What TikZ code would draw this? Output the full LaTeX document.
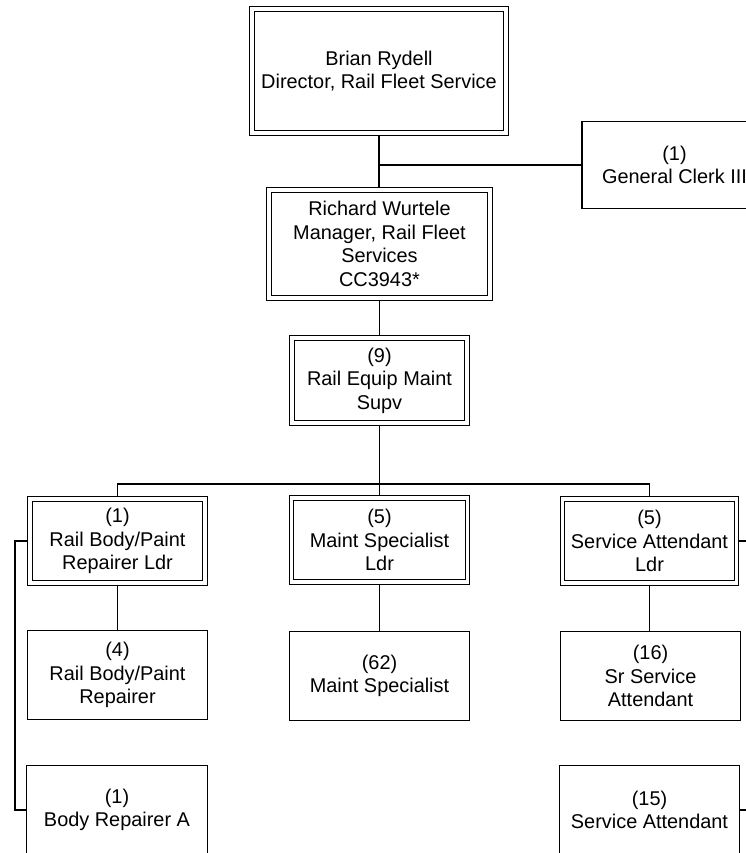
\documentclass[tikz,border=0pt]{standalone}
\usepackage{fontspec}
\setmainfont{Liberation Sans}
\usetikzlibrary{backgrounds}
\begin{document}
\begin{tikzpicture}[x=1pt,y=-1pt,
  box/.style={draw, line width=1.2pt, align=center, inner sep=0pt,
    font=\fontsize{19.9}{23.6}\selectfont, text=black},
  dbox/.style={box, double, double distance=3.6pt, line width=1.1pt},
  link/.style={line width=1.2pt}]
\path[use as bounding box] (0,0) rectangle (746,853);
\clip (0,0) rectangle (746,853);

% double-bordered boxes
\node[dbox, minimum width=254pt, minimum height=124pt] (dir) at (379,71) {Brian Rydell\\Director, Rail Fleet Service};
\node[dbox, minimum width=221pt, minimum height=108pt] (mgr) at (379.5,244) {Richard Wurtele\\Manager, Rail Fleet\\Services\\CC3943*};
\node[dbox, minimum width=175pt, minimum height=85pt] (supv) at (379.5,380.5) {(9)\\Rail Equip Maint\\Supv};
\node[dbox, minimum width=175pt, minimum height=84pt] (ldrA) at (117.5,541) {(1)\\Rail Body/Paint\\Repairer Ldr};
\node[dbox, minimum width=176pt, minimum height=84pt] (ldrB) at (379.5,540) {(5)\\Maint Specialist\\Ldr};
\node[dbox, minimum width=174pt, minimum height=84pt] (ldrC) at (649.5,541) {(5)\\Service Attendant\\Ldr};

% single-bordered boxes
\node[box, minimum width=185pt, minimum height=87pt] (clerk) at (674.5,165) {(1)\\General Clerk III};
\node[box, minimum width=180pt, minimum height=89pt] (a1) at (117.5,675) {(4)\\Rail Body/Paint\\Repairer};
\node[box, minimum width=180pt, minimum height=89pt] (b1) at (379.5,676) {(62)\\Maint Specialist};
\node[box, minimum width=180pt, minimum height=89pt] (c1) at (650.5,676) {(16)\\Sr Service\\Attendant};
\node[box, minimum width=181pt, minimum height=89pt] (a2) at (117,810) {(1)\\Body Repairer A};
\node[box, minimum width=180pt, minimum height=89pt] (c2) at (649.5,810) {(15)\\Service Attendant};

\coordinate (bus) at (379.5,484);
\coordinate (lv) at (15,0);

\begin{pgfonlayer}{background}
\draw[link] (dir.south) -- (dir.south |- mgr.north);
\draw[link] (dir.south |- clerk.west) -- (clerk.west);
\draw[link] (mgr.south) -- (mgr.south |- supv.north);
\draw[link, line width=1.6pt] (supv.south) -- (bus);
\draw[link] (bus) -- (bus |- ldrB.north);
\draw[link] (ldrA.north) |- (bus) -| (ldrC.north);
\draw[link] (ldrA.south) -- (a1.north);
\draw[link] (ldrB.south) -- (ldrB.south |- b1.north);
\draw[link] (ldrC.south) -- (ldrC.south |- c1.north);
\draw[link] (ldrA.west) -- (ldrA.west -| lv) |- (a2.west);
\draw[link] (ldrC.east) -- ++(15,0) |- (c2.east);
\end{pgfonlayer}
\end{tikzpicture}
\end{document}
